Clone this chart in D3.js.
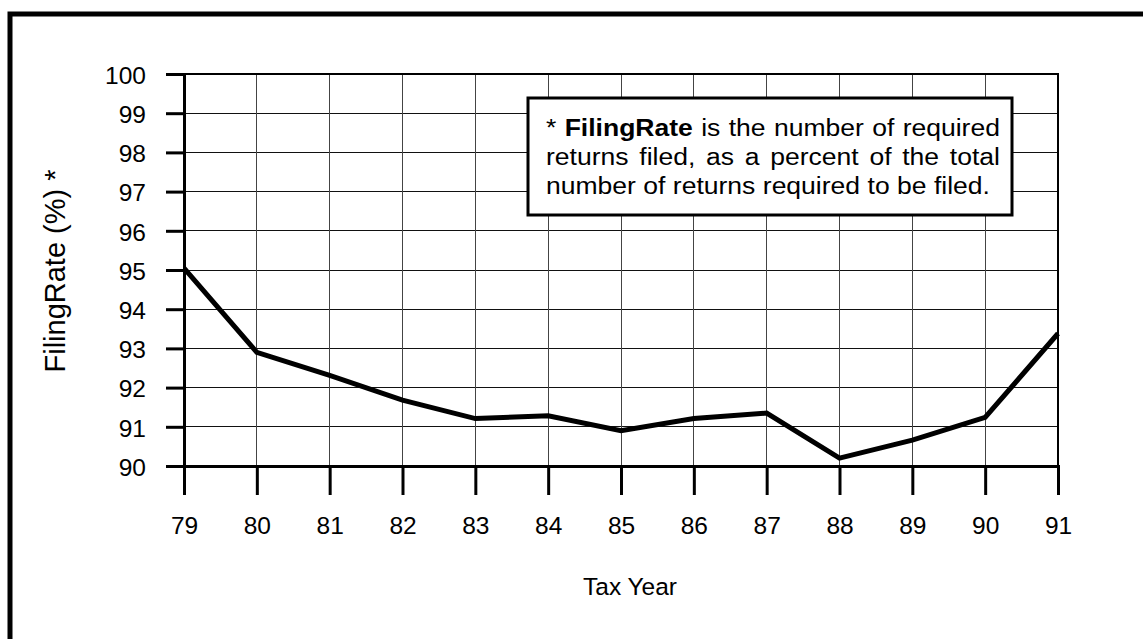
<!DOCTYPE html>
<html>
<head>
<meta charset="utf-8">
<script src="https://cdn.jsdelivr.net/npm/d3@7"></script>
<style>
  body { margin: 0; background: #fff; }
  svg { display: block; font-family: "Liberation Sans", Arial, sans-serif; }
</style>
</head>
<body>
<div id="chart"></div>
<script>
// Données
const years = ["79", "80", "81", "82", "83", "84", "85", "86", "87", "88", "89", "90", "91"];
const filingRate = [95.05, 92.9, 92.31, 91.68, 91.21, 91.28, 90.9, 91.21, 91.35, 90.2, 90.66, 91.24, 93.38];
const yTicks = [90, 91, 92, 93, 94, 95, 96, 97, 98, 99, 100];

const noteLines = [
    ["*", "FilingRate", "is", "the", "number", "of", "required"],
    ["returns", "filed,", "as", "a", "percent", "of", "the", "total"],
    ["number", "of", "returns", "required", "to", "be", "filed."]
];

const W = 1143, H = 639;
const plot = { left: 184, right: 1058, top: 74, bottom: 466 };
const tickFont = "24.5px";

const svg = d3.select("#chart").append("svg")
    .attr("width", W)
    .attr("height", H);

// Cadre extérieur (coupé à droite et en bas)
svg.append("rect")
    .attr("x", 10).attr("y", 14)
    .attr("width", 1300).attr("height", 800)
    .attr("fill", "none")
    .attr("stroke", "#000")
    .attr("stroke-width", 5);

const x = d3.scalePoint().domain(years).range([plot.left, plot.right]);
const y = d3.scaleLinear().domain([90, 100]).range([plot.bottom, plot.top]);

// Grille
svg.append("g").selectAll("line")
    .data(yTicks)
    .join("line")
    .attr("x1", plot.left).attr("x2", plot.right)
    .attr("y1", d => y(d)).attr("y2", d => y(d))
    .attr("stroke", "#111").attr("stroke-width", 1)
    .attr("shape-rendering", "crispEdges");

svg.append("g").selectAll("line")
    .data(years)
    .join("line")
    .attr("x1", d => x(d)).attr("x2", d => x(d))
    .attr("y1", plot.top).attr("y2", plot.bottom)
    .attr("stroke", "#444").attr("stroke-width", 1)
    .attr("shape-rendering", "crispEdges");

// Bord haut et droit
svg.append("path")
    .attr("d", `M${plot.left},${plot.top}H${plot.right}V${plot.bottom}`)
    .attr("fill", "none")
    .attr("stroke", "#000")
    .attr("stroke-width", 2);

// Axes
const yAxis = svg.append("g")
    .attr("transform", `translate(${plot.left},0)`)
    .call(d3.axisLeft(y).tickValues(yTicks).tickSize(18).tickPadding(20));

const xAxis = svg.append("g")
    .attr("transform", `translate(0,${plot.bottom})`)
    .call(d3.axisBottom(x).tickSize(29).tickPadding(22));

[yAxis, xAxis].forEach(ax => {
    ax.select(".domain").attr("stroke", "#000").attr("stroke-width", 3);
    ax.selectAll(".tick line").attr("stroke", "#000").attr("stroke-width", 3);
    ax.selectAll(".tick text")
        .attr("fill", "#000")
        .style("font-size", tickFont)
        .style("font-family", "'Liberation Sans', Arial, sans-serif");
});
yAxis.selectAll(".tick text").attr("dy", "0.38em");

// Ligne des données
const line = d3.line()
    .x((d, i) => x(years[i]))
    .y(d => y(d));

svg.append("path")
    .datum(filingRate)
    .attr("d", line)
    .attr("fill", "none")
    .attr("stroke", "#000")
    .attr("stroke-width", 5)
    .attr("stroke-linejoin", "miter");

// Titres des axes
svg.append("text")
    .attr("transform", "translate(65,271) rotate(-90)")
    .attr("text-anchor", "middle")
    .style("font-size", "29px")
    .text("FilingRate (%) *");

svg.append("text")
    .attr("x", 630).attr("y", 595)
    .attr("text-anchor", "middle")
    .style("font-size", tickFont)
    .text("Tax Year");

// Encadré de note
const box = { x: 528, y: 98, w: 484, h: 117 };
svg.append("rect")
    .attr("x", box.x).attr("y", box.y)
    .attr("width", box.w).attr("height", box.h)
    .attr("fill", "#fff")
    .attr("stroke", "#000")
    .attr("stroke-width", 3);

const textLeft = 546, textRight = 1000, lastRight = 990;
const baselines = [136, 165, 194];
const noteSize = 23;

// Mesure d'un mot
const measure = svg.append("text").style("font-size", noteSize + "px").attr("visibility", "hidden");
function wordWidth(w, bold) {
    measure.style("font-weight", bold ? "bold" : "normal").text(w);
    return measure.node().getComputedTextLength();
}
const spaceW = wordWidth("a a") - wordWidth("aa");

// Le texte de référence est plus large : on étire horizontalement
const lastW = d3.sum(noteLines[2], w => wordWidth(w)) + spaceW * (noteLines[2].length - 1);
const sx = (lastRight - textLeft) / lastW;
const noteG = svg.append("g").attr("transform", `translate(${textLeft},0) scale(${sx},1)`);
const innerW = (textRight - textLeft) / sx;

noteLines.forEach((words, li) => {
    const widths = words.map(w => wordWidth(w, w === "FilingRate"));
    const total = d3.sum(widths);
    const justify = li < noteLines.length - 1;
    const gap = justify ? (innerW - total) / (words.length - 1) : spaceW;
    let cx = 0;
    const t = noteG.append("text")
        .attr("y", baselines[li])
        .style("font-size", noteSize + "px");
    words.forEach((w, i) => {
        t.append("tspan")
            .attr("x", cx)
            .style("font-weight", w === "FilingRate" ? "bold" : "normal")
            .text(w);
        cx += widths[i] + gap;
    });
});
measure.remove();
</script>
</body>
</html>
